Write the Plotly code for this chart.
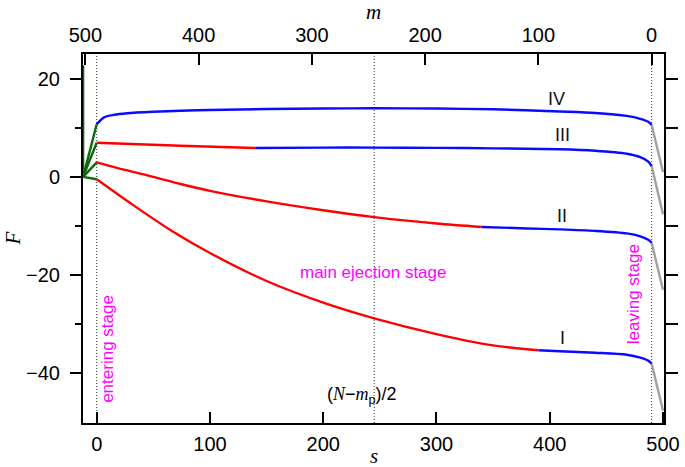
import plotly.graph_objects as go

# ---- data ----
s_I_red = [0, 30, 65, 100, 150, 200, 245, 300, 350, 390]
F_I_red = [-0.5, -5.4, -10.8, -15.5, -21.2, -25.6, -28.8, -32.0, -34.3, -35.3]
s_I_blue = [390, 409, 440, 468, 480, 487, 490]
F_I_blue = [-35.3, -35.5, -35.8, -36.2, -36.8, -37.4, -38.0]

s_II_red = [0, 25, 50, 74, 100, 150, 200, 245, 300, 340]
F_II_red = [2.95, 1.4, 0.0, -1.45, -2.85, -5.0, -6.8, -8.2, -9.5, -10.2]
s_II_blue = [340, 380, 409, 440, 468, 480, 487, 490]
F_II_blue = [-10.2, -10.5, -10.7, -11.0, -11.5, -12.1, -12.8, -13.4]

s_III_red = [0, 74, 140]
F_III_red = [6.95, 6.33, 5.88]
s_III_blue = [140, 200, 245, 300, 350, 409, 440, 468, 480, 487, 490]
F_III_blue = [5.88, 5.95, 5.95, 5.9, 5.8, 5.6, 5.3, 4.7, 4.0, 3.1, 2.2]

s_IV_blue = [0, 6.5, 15, 27, 50, 74, 100, 150, 200, 245, 300, 350, 409, 440, 468, 480, 487, 490]
F_IV_blue = [10.7, 12.1, 12.6, 12.95, 13.25, 13.45, 13.6, 13.8, 13.9, 13.95, 13.9, 13.75, 13.3, 13.0, 12.4, 11.8, 11.2, 10.55]

s_gray = [490, 500]
F_gray = {"IV": [10.55, 1.0], "III": [2.2, -7.6], "II": [-13.4, -23.0], "I": [-38.0, -47.6]}

s_green_start = -12
F_green_starts = [10.7, 6.95, 2.95, -0.5]
F_green_vertical = [0, 22.7]

s_ticks = [0, 100, 200, 300, 400, 500]
m_ticks = [0, 100, 200, 300, 400, 500]
F_ticks = [-40, -20, 0, 20]
F_ticks_all = [-40, -30, -20, -10, 0, 10, 20]
N_minus_mp = 490  # m = N - mp - s
stage_lines = [0, 245, 490]

curve_labels = ["IV", "III", "II", "I"]
label_s = [406, 411, 411, 411]
label_F = [15.9, 8.6, -8.0, -32.7]

RED = "#ff0000"
BLUE = "#0a0aff"
GREEN = "#0b6b0b"
GRAY = "#a0a0a0"
MAG = "#ff00ff"
LW = 2.4

fig = go.Figure()

def add(x, y, color, spline=True):
    fig.add_trace(go.Scatter(
        x=x, y=y, mode="lines",
        line=dict(color=color, width=LW, shape="spline" if spline else "linear", smoothing=0.8),
        showlegend=False, hoverinfo="skip"))

# green entering lines
for f0 in F_green_starts:
    add([s_green_start, 0], [0, f0], GREEN, spline=False)
add([s_green_start, s_green_start], F_green_vertical, GREEN, spline=False)

# gray leaving lines
for k in ["IV", "III", "II", "I"]:
    add(s_gray, F_gray[k], GRAY, spline=False)

add(s_I_red, F_I_red, RED)
add(s_I_blue, F_I_blue, BLUE)
add(s_II_red, F_II_red, RED)
add(s_II_blue, F_II_blue, BLUE)
add(s_III_red, F_III_red, RED)
add(s_III_blue, F_III_blue, BLUE)
add(s_IV_blue, F_IV_blue, BLUE)

# invisible trace to activate top and right axes
fig.add_trace(go.Scatter(x=[N_minus_mp], y=[0], xaxis="x2", yaxis="y2",
                         mode="markers", marker=dict(opacity=0), showlegend=False, hoverinfo="skip"))

xr = [-12.1, 500.9]
yr = [-50.1, 25.0]

tickfont = dict(family="Liberation Sans, Arial, sans-serif", size=20, color="black")
titlefont = dict(family="Liberation Serif, Times New Roman, serif", size=21, color="black")

fig.update_layout(
    width=685, height=467,
    margin=dict(l=83, r=21, t=54, b=44, autoexpand=False),
    paper_bgcolor="white", plot_bgcolor="white",
    xaxis=dict(range=xr, tickvals=s_ticks, ticks="inside", ticklen=11, tickwidth=1.5,
               tickcolor="black", showline=True, linewidth=2, linecolor="black", automargin=False,
               showgrid=False, zeroline=False, tickfont=tickfont, ticklabelstandoff=2),
    xaxis2=dict(range=[N_minus_mp - xr[0], N_minus_mp - xr[1]], overlaying="x", side="top",
                tickvals=m_ticks, ticks="inside", ticklen=11, tickwidth=1.5, tickcolor="black",
                showline=True, linewidth=2, linecolor="black", showgrid=False, zeroline=False,
                automargin=False, tickfont=tickfont, ticklabelstandoff=2),
    yaxis=dict(range=yr, tickvals=F_ticks, ticks="outside", ticklen=11, tickwidth=1.5,
               tickcolor="black", showline=True, linewidth=2, linecolor="black", automargin=False,
               showgrid=False, zeroline=False, tickfont=tickfont, ticklabelstandoff=6,
               minor=dict(tickvals=F_ticks_all, ticks="outside", ticklen=6, tickwidth=1.5,
                          tickcolor="black", showgrid=False)),
    yaxis2=dict(range=yr, overlaying="y", side="right", tickvals=F_ticks_all, ticks="outside",
                ticklen=12, tickwidth=1.5, tickcolor="black", showticklabels=False, automargin=False,
                showline=True, linewidth=2, linecolor="black", showgrid=False, zeroline=False),
)

# dotted stage boundaries
for sv in stage_lines:
    fig.add_shape(type="line", xref="x", yref="paper", x0=sv, x1=sv, y0=0, y1=1,
                  line=dict(color="#333", width=1, dash="1px,2px"), layer="below")

ann = []
# axis titles
ann.append(dict(text="<i>s</i>", xref="paper", yref="paper", x=0.5, y=0, yshift=-33,
                showarrow=False, font=titlefont, xanchor="center", yanchor="middle"))
ann.append(dict(text="<i>m</i>", xref="paper", yref="paper", x=0.5, y=1, yshift=42,
                showarrow=False, font=titlefont, xanchor="center", yanchor="middle"))
ann.append(dict(text="<i>F</i>", xref="paper", yref="paper", x=0, y=0.5, xshift=-71,
                showarrow=False, font=titlefont, textangle=-90, xanchor="center", yanchor="middle"))
# curve labels
for t, xs, yf in zip(curve_labels, label_s, label_F):
    ann.append(dict(text=t, x=xs, y=yf, xref="x", yref="y", showarrow=False,
                    font=dict(family="Liberation Sans, Arial, sans-serif", size=18, color="#111"),
                    xanchor="center", yanchor="middle"))
# stage texts
stfont = dict(family="Liberation Sans, Arial, sans-serif", size=17, color=MAG)
ann.append(dict(text="main ejection stage", x=244, y=-19.4, xref="x", yref="y",
                showarrow=False, font=stfont, xanchor="center", yanchor="middle"))
ann.append(dict(text="entering stage", x=10, y=-35.0, xref="x", yref="y", textangle=-90,
                showarrow=False, font=stfont, xanchor="center", yanchor="middle"))
ann.append(dict(text="leaving stage", x=474, y=-24.0, xref="x", yref="y", textangle=-90,
                showarrow=False, font=stfont, xanchor="center", yanchor="middle"))
ann.append(dict(text="(<span style=\"font-family:'Liberation Serif',serif\"><i>N</i></span>−"
                     "<span style=\"font-family:'Liberation Serif',serif\"><i>m</i></span><sub>p</sub>)/2",
                x=234, y=-44.5, xref="x", yref="y", showarrow=False,
                font=dict(family="Liberation Sans, Arial, sans-serif", size=18, color="black"),
                xanchor="center", yanchor="middle"))
fig.update_layout(annotations=ann)

fig.write_html("out.html", config={"displayModeBar": False},
               post_script="document.body.style.margin='0';document.body.style.padding='0';")
